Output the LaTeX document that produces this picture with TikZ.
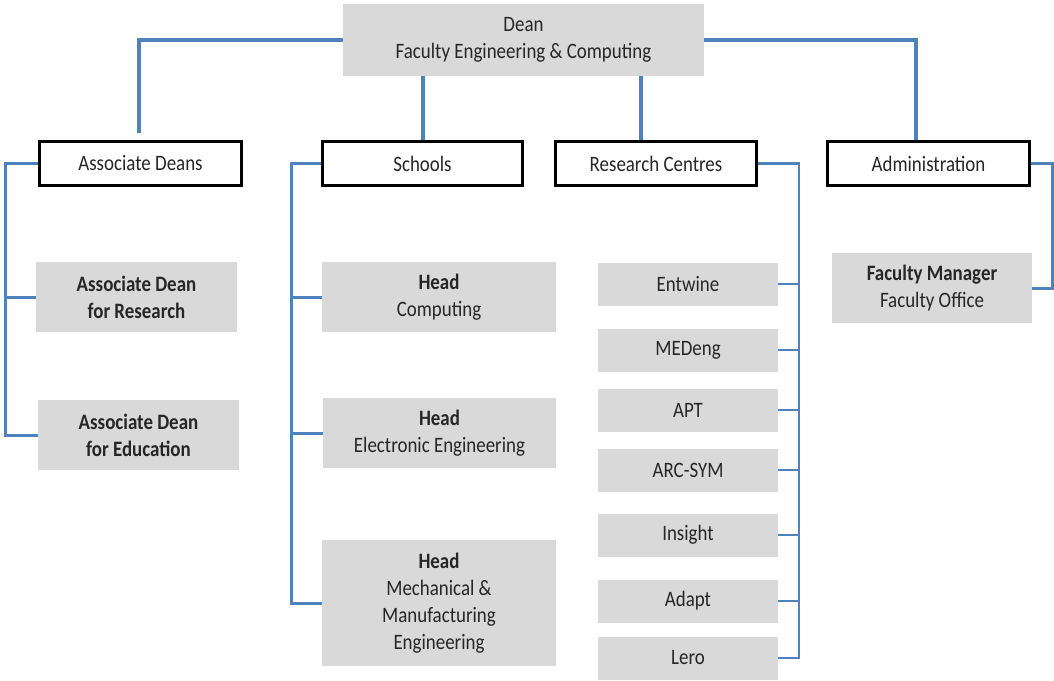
\documentclass[tikz,border=0pt]{standalone}
\usepackage{fontspec}
\setmainfont{Carlito}[FakeStretch=0.86]
\definecolor{linkblue}{RGB}{79,129,189}
\definecolor{boxgray}{RGB}{217,217,217}
\definecolor{inkgray}{RGB}{38,38,38}
\tikzset{
  unit/.style={fill=boxgray, draw=none, inner sep=0pt, align=center, text=inkgray},
  head/.style={fill=white, draw=black, line width=3pt, inner sep=0pt, align=center, text=inkgray},
  topline/.style={draw=linkblue, line width=4pt},
  subline/.style={draw=linkblue, line width=3pt},
  thinline/.style={draw=linkblue, line width=1.6pt}
}
\begin{document}
\begin{tikzpicture}[x=1pt, y=-1pt, font=\fontsize{22}{27}\selectfont]
  \useasboundingbox (0,0) rectangle (1054,680);
  \draw
    (523.5,40) node[unit, minimum width=361, minimum height=72] (dean){Dean\\Faculty Engineering \& Computing}
    (140.5,163.5) node[head, minimum width=202, minimum height=44] (ad){Associate Deans}
    (422.5,163.5) node[head, minimum width=200, minimum height=44] (sch){Schools}
    (656,163.5) node[head, minimum width=201, minimum height=44] (rc){Research Centres}
    (928.5,163.5) node[head, minimum width=202, minimum height=44] (adm){Administration};
  \draw
    (136.5,297) node[unit, minimum width=201, minimum height=70] (adr){\bfseries Associate Dean\\\bfseries for Research}
    (138.5,435) node[unit, minimum width=201, minimum height=70] (ade){\bfseries Associate Dean\\\bfseries for Education}
    (439,297) node[unit, minimum width=234, minimum height=70] (hc){\bfseries Head\\Computing}
    (439.5,433) node[unit, minimum width=233, minimum height=70] (he){\bfseries Head\\Electronic Engineering}
    (439,603) node[unit, minimum width=234, minimum height=126] (hm){\bfseries Head\\Mechanical \&\\Manufacturing\\Engineering}
    (932,288) node[unit, minimum width=200, minimum height=70] (fm){\bfseries Faculty Manager\\Faculty Office};
  \draw
    (688,284) node[unit, minimum width=180, minimum height=43] (ent){Entwine}
    (688,350) node[unit, minimum width=180, minimum height=43] (med){MEDeng}
    (688,410) node[unit, minimum width=180, minimum height=43] (apt){APT}
    (688,470) node[unit, minimum width=180, minimum height=43] (arc){ARC-SYM}
    (688,535) node[unit, minimum width=180, minimum height=43] (ins){Insight}
    (688,601) node[unit, minimum width=180, minimum height=43] (ada){Adapt}
    (688,658) node[unit, minimum width=180, minimum height=43] (ler){Lero};
  \coordinate (adtop) at (139,133);
  \coordinate (rctop) at (641,0);
  \coordinate (admtop) at (916,0);
  \coordinate (adbus) at (5,0);
  \coordinate (schbus) at (291,0);
  \coordinate (rcbus) at (799,0);
  \coordinate (admbus) at (1052,0);
  \begin{scope}[topline]
    \draw (dean.west) -| (adtop);
    \draw (sch.north) -- (sch.north |- dean.south);
    \draw (rctop |- dean.south) -- (rctop |- rc.north);
    \draw (dean.east) -| (admtop |- adm.north);
  \end{scope}
  \begin{scope}[subline]
    \draw (ad.west) -| (adbus |- ade.west) -- (ade.west);
    \draw (adr.west) -- (adr.west -| adbus);
    \draw (sch.west) -| (schbus |- hm.west) -- (hm.west);
    \draw (hc.west) -- (hc.west -| schbus);
    \draw (he.west) -- (he.west -| schbus);
    \draw (adm.east) -| (admbus |- fm.east) -- (fm.east);
  \end{scope}
  \begin{scope}[thinline]
    \draw[line width=2.5pt] (rc.east) -| (rcbus |- ler.east) -- (ler.east);
    \draw (ent.east) -- (ent.east -| rcbus);
    \draw (med.east) -- (med.east -| rcbus);
    \draw (apt.east) -- (apt.east -| rcbus);
    \draw (arc.east) -- (arc.east -| rcbus);
    \draw (ins.east) -- (ins.east -| rcbus);
    \draw (ada.east) -- (ada.east -| rcbus);
  \end{scope}
\end{tikzpicture}
\end{document}
